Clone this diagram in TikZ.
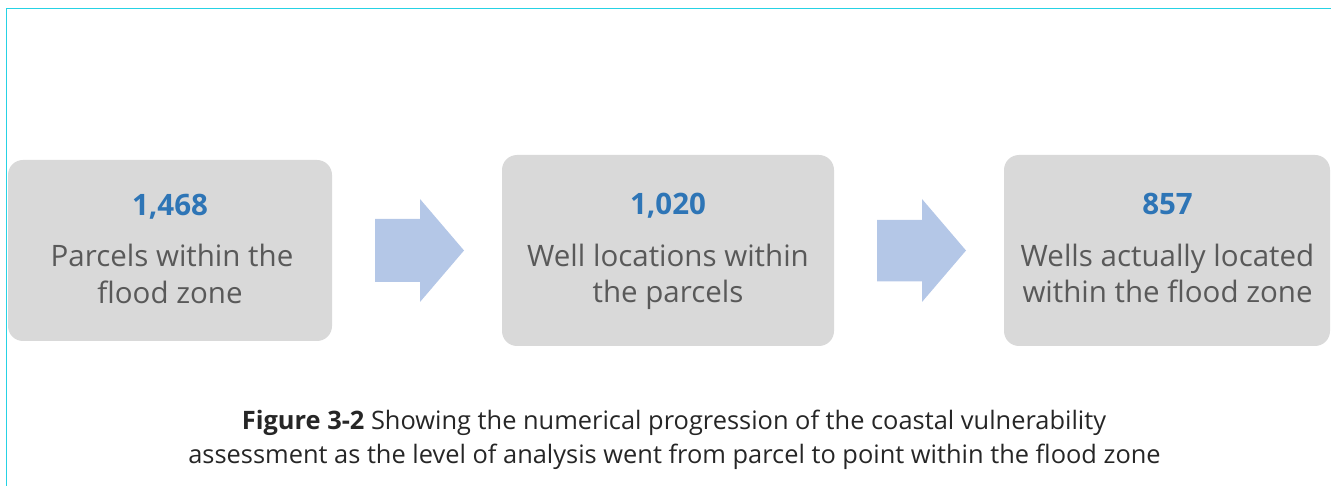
\documentclass[tikz,border=0pt]{standalone}
\usepackage{fontspec}
\setmainfont{Open Sans}
\definecolor{boxgray}{HTML}{D9D9D9}
\definecolor{txtgray}{HTML}{595959}
\definecolor{numblue}{HTML}{2E75B6}
\definecolor{arrowblue}{HTML}{B4C7E7}
\definecolor{framecyan}{RGB}{38,210,228}
\definecolor{captxt}{HTML}{262626}
\begin{document}
\begin{tikzpicture}[x=1pt,y=-1pt,
  stagebox/.style={fill=boxgray, draw=none, rounded corners=15pt},
  numtext/.style={anchor=base, inner sep=0pt, text=numblue, font=\fontsize{29.5}{34}\selectfont\bfseries},
  labtext/.style={anchor=base, inner sep=0pt, text=txtgray, font=\fontsize{29.5}{37}\selectfont},
  captext/.style={anchor=base, inner sep=0pt, text=captxt, font=\fontsize{25.4}{34}\selectfont},
  flowarrow/.style={fill=arrowblue, draw=none},
  frameline/.style={draw=framecyan, line width=1.2pt}
]
\useasboundingbox (0,0) rectangle (1331,486);
% frame
\coordinate (fbl) at (6.5,486);
\coordinate (ftl) at (6.5,8.5);
\coordinate (ftr) at (1331,8.5);
\draw[frameline] (fbl) -- (ftl) -- (ftr);
% boxes
\path[stagebox] (8,160) rectangle (332,341);
\path[stagebox] (502,155) rectangle (834,346);
\path[stagebox] (1004,155) rectangle (1330,346);
% texts box 1
\node[numtext] (n1) at (170,216) {1,468};
\node[labtext] (l1a) at (172,267) {Parcels within the};
\node[labtext] (l1b) at (170,304) {flood zone};
% texts box 2
\node[numtext] (n2) at (668,215) {1,020};
\node[labtext] (l2a) at (668,267) {Well locations within};
\node[labtext] (l2b) at (668,303) {the parcels};
% texts box 3
\node[numtext] (n3) at (1167.5,215) {857};
\node[labtext] (l3a) at (1167.5,267) {Wells actually located};
\node[labtext] (l3b) at (1167.5,303) {within the flood zone};
% arrows
\fill[flowarrow] (375,219) -- (420,219) -- (420,199) -- (464,250.5) -- (420,302) -- (420,282) -- (375,282) -- cycle;
\fill[flowarrow] (877,220) -- (922,220) -- (922,199) -- (966,250.5) -- (922,302) -- (922,281.5) -- (877,281.5) -- cycle;
% caption
\node[captext] (cap1) at (674,429) {\textbf{Figure 3-2} Showing the numerical progression of the coastal vulnerability};
\node[captext] (cap2) at (674.5,463) {assessment as the level of analysis went from parcel to point within the flood zone};
\end{tikzpicture}
\end{document}
